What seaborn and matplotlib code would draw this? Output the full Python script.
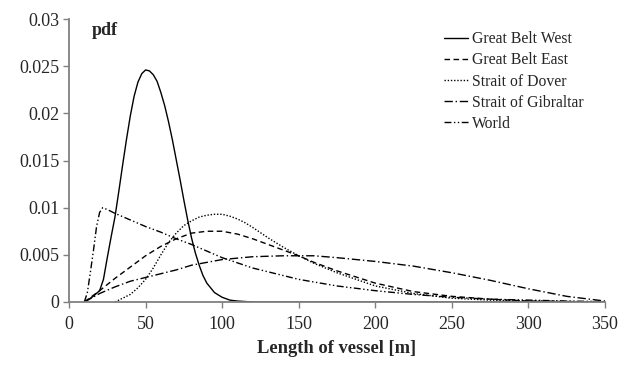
import numpy as np
import pandas as pd
import matplotlib
matplotlib.use('Agg')
import matplotlib.pyplot as plt
import seaborn as sns

# values (length of vessel [m] -> pdf)
gbw_x = [10, 15, 20, 22.5, 25, 27.5, 30, 32.5, 35, 37.5, 40, 42.5, 45, 47.5, 50, 52.5, 55, 57.5, 60, 62.5,
         65, 67.5, 70, 72.5, 75, 77.5, 80, 82.5, 85, 87.5, 90, 95, 100, 105, 110, 120, 350]
gbw_y = [0, 0.0005, 0.0012, 0.0024, 0.0047, 0.0069, 0.0090, 0.0117, 0.0145, 0.0172, 0.0197, 0.0218, 0.0233, 0.0242, 0.0246,
         0.0245, 0.0241, 0.0234, 0.0222, 0.0208, 0.0191, 0.0172, 0.0151, 0.0130, 0.0108, 0.0087, 0.0068, 0.0052,
         0.0039, 0.0028, 0.0020, 0.0010, 0.0005, 0.0002, 0.0001, 0, 0]

gbe_x = [10, 20, 30, 40, 50, 60, 70, 80, 90, 100, 110, 120, 130, 140, 150, 160, 175, 200, 225, 250, 275, 300, 350]
gbe_y = [0, 0.0012, 0.0025, 0.0037, 0.0049, 0.0059, 0.0067, 0.0073, 0.0075, 0.0075, 0.0072, 0.0067, 0.0061, 0.0055,
         0.0049, 0.0042, 0.0033, 0.0020, 0.0011, 0.0006, 0.0003, 0.0001, 0]

dov_x = [30, 35, 40, 45, 50, 55, 60, 65, 70, 75, 80, 85, 90, 95, 100, 105, 110, 115, 120, 130, 140, 150, 160, 175, 200,
         225, 250, 275, 300, 350]
dov_y = [0, 0.0004, 0.0008, 0.0015, 0.0024, 0.0036, 0.0050, 0.0063, 0.0073, 0.0081, 0.0086, 0.0090, 0.0092, 0.0093,
         0.0093, 0.0091, 0.0088, 0.0084, 0.0079, 0.0068, 0.0058, 0.0049, 0.0041, 0.0031, 0.0017, 0.0009, 0.0004,
         0.0002, 0.0001, 0]

gib_x = [10, 20, 30, 40, 50, 60, 70, 80, 90, 100, 120, 140, 150, 160, 175, 200, 225, 250, 275, 300, 325, 350]
gib_y = [0, 0.0009, 0.0016, 0.0022, 0.0026, 0.0030, 0.0034, 0.0039, 0.0042, 0.0045, 0.0048, 0.0049, 0.0049, 0.0049,
         0.0047, 0.0043, 0.0038, 0.0031, 0.0023, 0.0014, 0.0006, 0.0001]

wld_x = [10, 12, 14, 16, 18, 20, 22, 25, 30, 40, 50, 60, 70, 80, 90, 100, 120, 150, 175, 200, 225, 250, 275, 300, 325, 350]
wld_y = [0, 0.0010, 0.0032, 0.0055, 0.0080, 0.0095, 0.0100, 0.0098, 0.0094, 0.0087, 0.0080, 0.0074, 0.0067, 0.0061,
         0.0054, 0.0047, 0.0036, 0.0024, 0.0017, 0.0012, 0.0008, 0.0005, 0.0003, 0.0002, 0.0001, 0.00005]

names = ['Great Belt West', 'Great Belt East', 'Strait of Dover', 'Strait of Gibraltar', 'World']
xticks = [0, 50, 100, 150, 200, 250, 300, 350]
yticks = [0, 0.005, 0.01, 0.015, 0.02, 0.025, 0.03]
ytick_labels = ['0', '0.005', '0.01', '0.015', '0.02', '0.025', '0.03']

series = [(gbw_x, gbw_y), (gbe_x, gbe_y), (dov_x, dov_y), (gib_x, gib_y), (wld_x, wld_y)]
styles = ['-', (0, (4, 2.5)), (0, (1, 1.3)), (0, (6, 2, 1, 2)), (0, (5, 1.8, 1, 1.8, 1, 1.8))]

sns.set_style('ticks')
plt.rcParams['font.family'] = ['Liberation Serif', 'DejaVu Serif']

fig = plt.figure(figsize=(6.18, 3.70), dpi=100)
ax = fig.add_axes([69 / 618, 1 - 302 / 370, 536 / 618, 283 / 370])

for (xs, ys), name, ls in zip(series, names, styles):
    df = pd.DataFrame({'len': xs, 'pdf': ys})
    sns.lineplot(data=df, x='len', y='pdf', ax=ax, color='black', lw=1.0,
                 linestyle=ls, label=name)

ax.set_xlim(0, 350)
ax.set_ylim(0, 0.03)
ax.set_xticks(xticks)
ax.set_yticks(yticks)
ax.set_yticklabels(ytick_labels)
ax.tick_params(labelsize=13, length=4, width=1, color='#808080', direction='out', pad=3)
ax.tick_params(axis='x', pad=6)
for s in ['top', 'right']:
    ax.spines[s].set_visible(False)
for s in ['left', 'bottom']:
    ax.spines[s].set_color('#808080')
    ax.spines[s].set_linewidth(1.3)

ax.set_xlabel('Length of vessel [m]', fontsize=13.3, fontweight='bold', labelpad=5)
ax.set_ylabel('')
ax.text(0.043, 0.958, 'pdf', transform=ax.transAxes, fontsize=13,
        fontweight='bold', va='center', ha='left')

ax.legend(loc='upper left', bbox_to_anchor=(0.70, 0.957), frameon=False,
          fontsize=11.3, handlelength=1.5, handletextpad=0.25,
          labelspacing=0.33, borderpad=0, borderaxespad=0)

fig.savefig('out.png', dpi=100)
